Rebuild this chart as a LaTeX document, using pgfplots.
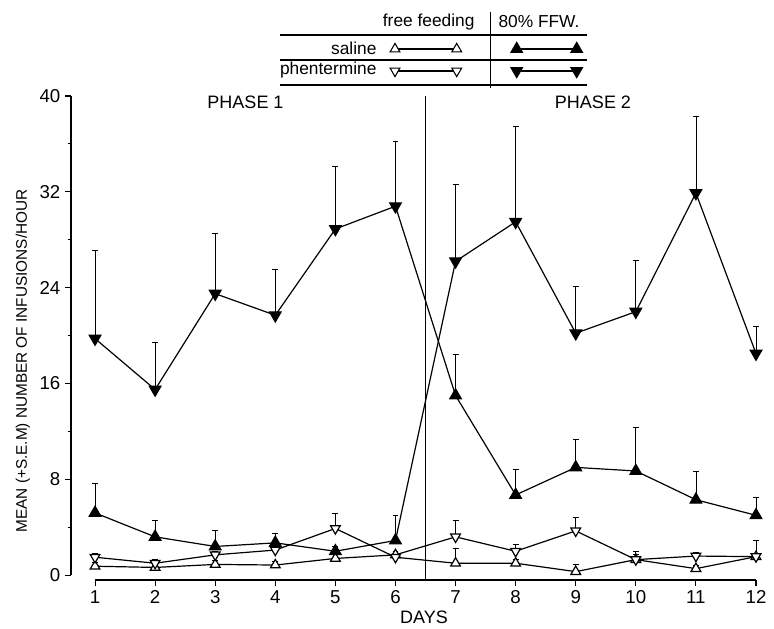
\documentclass[border=0pt]{standalone}
\usepackage{fontspec}
\setmainfont{Liberation Sans}
\usepackage{pgfplots}
\pgfplotsset{compat=1.18}
\pgfplotsset{
  fdown/.style={mark=triangle*, mark size=5pt, mark options={rotate=180, fill=black, solid}},
  fup/.style={mark=triangle*, mark size=5pt, mark options={fill=black, solid}},
  odown/.style={mark=triangle*, mark size=4.2pt, mark options={rotate=180, fill=white, solid}},
  oup/.style={mark=triangle*, mark size=4.2pt, mark options={fill=white, solid}},
  err/.style={error bars/.cd, y dir=plus, y explicit,
     error bar style={line width=0.6pt, black},
     error mark options={rotate=90, line width=0.6pt, mark size=2.2pt, black}},
}
\begin{document}
\begin{tikzpicture}
\path[use as bounding box] (0pt,0pt) rectangle (580.5pt,-471pt);
% annotation layer in pixel units
\begin{axis}[at={(0pt,0pt)}, anchor=north west, scale only axis,
  width=580.5pt, height=471pt, xmin=0, xmax=774, ymin=0, ymax=628,
  y dir=reverse, hide axis, clip=false]
  \draw[line width=0.8pt] (axis cs:280,35) -- (axis cs:587,35);
  \draw[line width=0.8pt] (axis cs:280,60) -- (axis cs:587,60);
  \draw[line width=0.8pt] (axis cs:280,85) -- (axis cs:587,85);
  \draw[line width=0.8pt] (axis cs:490.7,12) -- (axis cs:490.7,88);
  \node[font=\fontsize{13}{15}\selectfont] at (axis cs:428.7,21.7) {free feeding};
  \node[font=\fontsize{13}{15}\selectfont] at (axis cs:539,21.7) {80\% FFW.};
  \node[font=\fontsize{13}{15}\selectfont, anchor=east, inner sep=0pt] at (axis cs:376.7,48) {saline};
  \node[font=\fontsize{13}{15}\selectfont, anchor=east, inner sep=0pt] at (axis cs:376.7,70) {phentermine};
  \addplot[line width=0.8pt, oup] coordinates {(395,49) (456.7,49)};
  \addplot[line width=0.8pt, fup] coordinates {(516.7,49) (576.7,49)};
  \addplot[line width=0.8pt, odown] coordinates {(395,71) (456.7,71)};
  \addplot[line width=0.8pt, fdown] coordinates {(516.7,71) (576.7,71)};
  \node[font=\fontsize{13.5}{15}\selectfont] at (axis cs:245.5,102) {PHASE 1};
  \node[font=\fontsize{13.5}{15}\selectfont] at (axis cs:593,102) {PHASE 2};
  \node[font=\fontsize{13.5}{15}\selectfont] at (axis cs:424,617) {DAYS};
  \node[font=\fontsize{11.5}{13}\selectfont, rotate=90] at (axis cs:23,361) {MEAN (+S.E.M) NUMBER OF INFUSIONS/HOUR};
\end{axis}
% data axis
\begin{axis}[at={(53.25pt,-435pt)}, anchor=south west, scale only axis,
  width=513.75pt, height=363pt,
  xmin=0.6, xmax=12, ymin=-0.4, ymax=40,
  axis lines=left, axis line style={draw=none},
  tick align=outside,
  xtick={1,...,12}, ytick={0,8,...,40}, minor ytick={4,12,...,36},
  major tick length=4.5pt, minor tick length=2.5pt,
  tick style={line width=0.8pt, black},
  ticklabel style={font=\fontsize{14}{15}\selectfont},
  /pgf/number format/assume math mode=true,
  clip=false]
  \draw[line width=1pt] (axis cs:0.6,0) -- (axis cs:0.6,40);
  \draw[line width=1pt] (axis cs:1,-0.4) -- (axis cs:12,-0.4);
  \draw[line width=0.9pt] (axis cs:6.5,-0.4) -- (axis cs:6.5,40);
  % connectors between phases
  \addplot[line width=0.9pt, no marks] coordinates {(6,30.8) (7,15.0)};
  \addplot[line width=0.9pt, no marks] coordinates {(6,2.9) (7,26.2)};
  \addplot[line width=0.9pt, no marks] coordinates {(6,1.5) (7,1.0)};
  \addplot[line width=0.9pt, no marks] coordinates {(6,1.7) (7,3.2)};
  % open up triangles: saline free feeding
  \addplot[line width=0.9pt, oup, err] coordinates {
    (1,0.75) +- (0,0.3) (2,0.65) +- (0,0.3) (3,0.9) +- (0,0.3)
    (4,0.85) +- (0,0.3) (5,1.4) +- (0,0.3) (6,1.7) +- (0,0.3)};
  \addplot[line width=0.9pt, oup, err] coordinates {
    (7,1.0) +- (0,1.2) (8,1.0) +- (0,0.3) (9,0.3) +- (0,0.6)
    (10,1.3) +- (0,0.4) (11,0.55) +- (0,0.3) (12,1.55) +- (0,0.3)};
  % open down triangles: phentermine free feeding
  \addplot[line width=0.9pt, odown, err] coordinates {
    (1,1.5) +- (0,0.3) (2,1.0) +- (0,0.3) (3,1.7) +- (0,0.3)
    (4,2.1) +- (0,0.3) (5,3.9) +- (0,1.3) (6,1.5) +- (0,0.3)};
  \addplot[line width=0.9pt, odown, err] coordinates {
    (7,3.2) +- (0,1.4) (8,2.0) +- (0,0.6) (9,3.7) +- (0,1.1)
    (10,1.3) +- (0,0.7) (11,1.6) +- (0,0.3) (12,1.55) +- (0,1.35)};
  % filled up triangles: saline 80% FFW
  \addplot[line width=0.9pt, fup, err] coordinates {
    (1,5.2) +- (0,2.45) (2,3.2) +- (0,1.4) (3,2.4) +- (0,1.3)
    (4,2.7) +- (0,0.75) (5,2.0) +- (0,0.4) (6,2.9) +- (0,2.1)};
  \addplot[line width=0.9pt, fup, err] coordinates {
    (7,15.0) +- (0,3.4) (8,6.7) +- (0,2.1) (9,9.0) +- (0,2.3)
    (10,8.7) +- (0,3.6) (11,6.3) +- (0,2.4) (12,5.0) +- (0,1.5)};
  % filled down triangles: phentermine 80% FFW
  \addplot[line width=0.9pt, fdown, err] coordinates {
    (1,19.75) +- (0,7.35) (2,15.5) +- (0,3.9) (3,23.5) +- (0,5.0)
    (4,21.7) +- (0,3.8) (5,28.9) +- (0,5.2) (6,30.8) +- (0,5.4)};
  \addplot[line width=0.9pt, fdown, err] coordinates {
    (7,26.2) +- (0,6.4) (8,29.5) +- (0,8.0) (9,20.2) +- (0,3.9)
    (10,22.0) +- (0,4.3) (11,31.9) +- (0,6.4) (12,18.5) +- (0,2.3)};
\end{axis}
\end{tikzpicture}
\end{document}
